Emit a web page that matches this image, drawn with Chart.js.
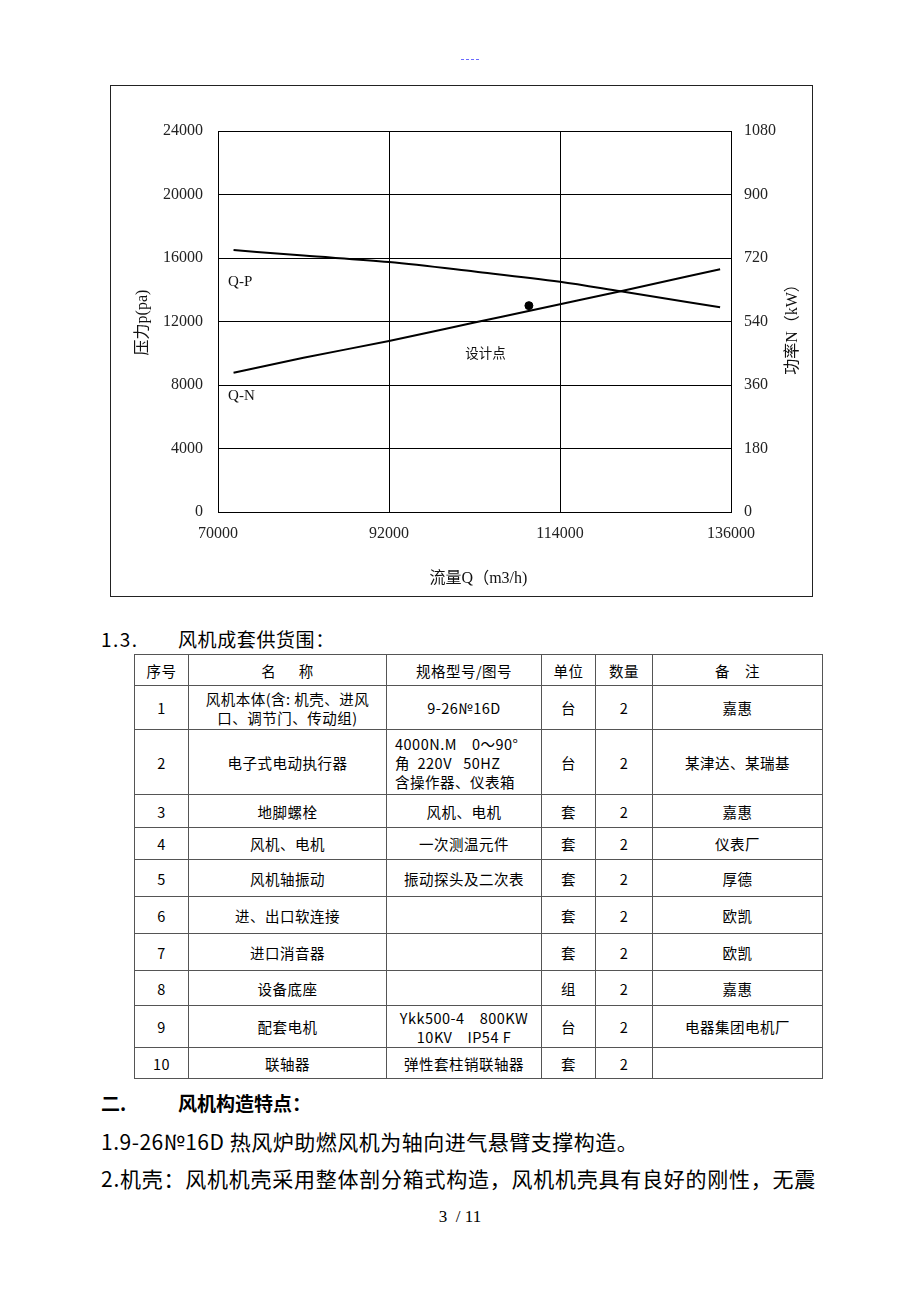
<!DOCTYPE html>
<html lang="zh">
<head>
<meta charset="utf-8">
<script src="https://cdn.jsdelivr.net/npm/chart.js@4.4.0/dist/chart.umd.min.js"></script>
<style>
  html, body { margin: 0; padding: 0; background: #fff; }
  body { width: 920px; height: 1302px; position: relative; overflow: hidden;
         font-family: "Noto Sans CJK SC", sans-serif; color: #000; }
  .abs { position: absolute; white-space: nowrap; }
  #mark { left: 461px; top: 59px; width: 18px; border-top: 1px dashed #6a6aff; height: 0; }
  #frame { position: absolute; left: 110px; top: 85px; width: 701px; height: 510px; border: 1px solid #222; }
  #frame canvas { display: block; }
  .h1 { font-size: 19px; line-height: 24px; }
  .h2 { font-size: 19px; line-height: 24px; font-weight: bold; }
  .para { font-size: 21px; line-height: 26px; }
  table { position: absolute; left: 134px; top: 654px; width: 688px; border-collapse: collapse;
          table-layout: fixed; font-size: 14.5px; }
  td { border: 1px solid #555; text-align: center; vertical-align: middle; padding: 0 3px;
       line-height: 19px; letter-spacing: 0.5px; }
  td.spec { text-align: left; padding-left: 8px; }
  #page { left: 0; width: 920px; top: 1207px; text-align: center; font-family: "Liberation Serif", serif; font-size: 17px; }
</style>
</head>
<body>
<div id="mark" class="abs"></div>

<div id="frame"><canvas id="fanChart"></canvas></div>

<div class="abs h1" style="left:101px; top:627px; letter-spacing:1.5px;">1.3.</div>
<div class="abs h1" style="left:178px; top:627px; letter-spacing:0.6px;">风机成套供货围：</div>

<table>
  <colgroup>
    <col style="width:54px"><col style="width:198px"><col style="width:155px">
    <col style="width:54px"><col style="width:57px"><col style="width:170px">
  </colgroup>
  <tr style="height:31px"><td>序号</td><td>名&nbsp;&nbsp;&nbsp;&nbsp;&nbsp;&nbsp;称</td><td>规格型号/图号</td><td>单位</td><td>数量</td><td>备&nbsp;&nbsp;&nbsp;&nbsp;注</td></tr>
  <tr style="height:44px"><td>1</td><td>风机本体(含: 机壳、进风<br>口、调节门、传动组)</td><td>9-26№16D</td><td>台</td><td>2</td><td>嘉惠</td></tr>
  <tr style="height:65px"><td>2</td><td>电子式电动执行器</td><td class="spec">4000N.M&nbsp;&nbsp;&nbsp;&nbsp;0～90°<br>角&nbsp;&nbsp;220V&nbsp;&nbsp;&nbsp;50HZ<br>含操作器、仪表箱</td><td>台</td><td>2</td><td>某津达、某瑞基</td></tr>
  <tr style="height:33px"><td>3</td><td>地脚螺栓</td><td>风机、电机</td><td>套</td><td>2</td><td>嘉惠</td></tr>
  <tr style="height:32px"><td>4</td><td>风机、电机</td><td>一次测温元件</td><td>套</td><td>2</td><td>仪表厂</td></tr>
  <tr style="height:37px"><td>5</td><td>风机轴振动</td><td>振动探头及二次表</td><td>套</td><td>2</td><td>厚德</td></tr>
  <tr style="height:37px"><td>6</td><td>进、出口软连接</td><td></td><td>套</td><td>2</td><td>欧凯</td></tr>
  <tr style="height:37px"><td>7</td><td>进口消音器</td><td></td><td>套</td><td>2</td><td>欧凯</td></tr>
  <tr style="height:35px"><td>8</td><td>设备底座</td><td></td><td>组</td><td>2</td><td>嘉惠</td></tr>
  <tr style="height:42px"><td>9</td><td>配套电机</td><td>Ykk500-4&nbsp;&nbsp;&nbsp;&nbsp;800KW<br>10KV&nbsp;&nbsp;&nbsp;&nbsp;IP54 F</td><td>台</td><td>2</td><td>电器集团电机厂</td></tr>
  <tr style="height:31px"><td>10</td><td>联轴器</td><td>弹性套柱销联轴器</td><td>套</td><td>2</td><td></td></tr>
</table>

<div class="abs h2" style="left:101px; top:1091px;">二.</div>
<div class="abs h2" style="left:178px; top:1091px;">风机构造特点：</div>
<div class="abs para" style="left:101px; top:1128px; letter-spacing:0.5px;">1.9-26№16D 热风炉助燃风机为轴向进气悬臂支撑构造。</div>
<div class="abs para" style="left:101px; top:1165px; letter-spacing:0.75px;">2.机壳：风机机壳采用整体剖分箱式构造，风机机壳具有良好的刚性，无震</div>

<div id="page" class="abs">3&nbsp; / 11</div>

<script>
// 性能曲线数据
const flowQ     = [72000, 81000, 92000, 103000, 114000, 121800, 134600];
const pressureP = [16500, 16150, 15750, 15150, 14500, 13900, 12900];
const powerN    = [395, 437, 485, 537, 589, 626, 688];

// 设计点
const designQ = [110000];
const designP = [13000];

// 刻度
const xTicks = [70000, 92000, 114000, 136000];
const pTicks = [0, 4000, 8000, 12000, 16000, 20000, 24000];
const nTicks = [0, 180, 360, 540, 720, 900, 1080];

// 图中文字标注
const noteText = ['Q-P', 'Q-N', '设计点'];
const noteQ    = [71300, 71300, 101800];
const noteP    = [14460, 7330, 10050];

const serif = '"Liberation Serif", "Noto Sans CJK SC", serif';

// 画标注和坐标轴标题
const textPlugin = {
  id: 'textPlugin',
  afterDatasetsDraw(chart) {
    const { ctx, chartArea: a, scales } = chart;
    ctx.save();
    ctx.fillStyle = '#111';
    ctx.textBaseline = 'middle';
    ctx.textAlign = 'left';
    noteText.forEach((t, i) => {
      ctx.font = i < 2 ? '15px ' + serif : '13.5px "Noto Sans CJK SC", sans-serif';
      ctx.fillText(t, scales.x.getPixelForValue(noteQ[i]), scales.yP.getPixelForValue(noteP[i]));
    });

    const midY = (a.top + a.bottom) / 2;
    ctx.font = '16px ' + serif;
    ctx.textAlign = 'center';

    ctx.save();
    ctx.translate(a.left - 75, midY + 1);
    ctx.rotate(-Math.PI / 2);
    ctx.fillText('压力p(pa)', 0, 0);
    ctx.restore();

    ctx.save();
    ctx.translate(a.right + 62, midY + 4);
    ctx.rotate(-Math.PI / 2);
    ctx.fillText('功率N（kW）', 0, 0);
    ctx.restore();

    ctx.fillText('流量Q（m3/h)', (a.left + a.right) / 2 + 4, a.bottom + 67);
    ctx.restore();
  }
};

const fixTicks = vals => scale => { scale.ticks = vals.map(v => ({ value: v })); };

new Chart(document.getElementById('fanChart'), {
  type: 'line',
  data: {
    datasets: [
      {
        label: 'Q-P',
        data: flowQ.map((q, i) => ({ x: q, y: pressureP[i] })),
        yAxisID: 'yP',
        borderColor: '#000', borderWidth: 2,
        pointRadius: 0, cubicInterpolationMode: 'monotone'
      },
      {
        label: 'Q-N',
        data: flowQ.map((q, i) => ({ x: q, y: powerN[i] })),
        yAxisID: 'yN',
        borderColor: '#000', borderWidth: 2,
        pointRadius: 0, cubicInterpolationMode: 'monotone'
      },
      {
        label: '设计点',
        data: designQ.map((q, i) => ({ x: q, y: designP[i] })),
        yAxisID: 'yP',
        showLine: false,
        pointRadius: 4, pointBackgroundColor: '#000', pointBorderColor: '#000'
      }
    ]
  },
  options: {
    responsive: true, maintainAspectRatio: false, animation: false,
    layout: { padding: { top: 45, left: 0, right: 0, bottom: 0 } },
    plugins: { legend: { display: false }, tooltip: { enabled: false } },
    scales: {
      x: {
        type: 'linear', min: 70000, max: 136000,
        afterBuildTicks: fixTicks(xTicks),
        afterFit: s => { s.height = 84; },
        grid: { color: '#000', lineWidth: 1, drawTicks: false },
        border: { color: '#000', width: 1 },
        ticks: { padding: 12, color: '#222', font: { family: 'Liberation Serif', size: 16 },
                 callback: v => String(v), maxRotation: 0 }
      },
      yP: {
        position: 'left', min: 0, max: 24000,
        afterBuildTicks: fixTicks(pTicks),
        afterFit: s => { s.width = 107; },
        grid: { color: '#000', lineWidth: 1, drawTicks: false },
        border: { color: '#000', width: 1 },
        ticks: { padding: 15, color: '#222', font: { family: 'Liberation Serif', size: 16 },
                 callback: v => String(v) }
      },
      yN: {
        position: 'right', min: 0, max: 1080,
        afterBuildTicks: fixTicks(nTicks),
        afterFit: s => { s.width = 81; },
        grid: { display: false, drawTicks: false },
        border: { color: '#000', width: 1 },
        ticks: { padding: 13, color: '#222', font: { family: 'Liberation Serif', size: 16 },
                 callback: v => String(v) }
      }
    }
  },
  plugins: [textPlugin]
});
</script>
</body>
</html>
